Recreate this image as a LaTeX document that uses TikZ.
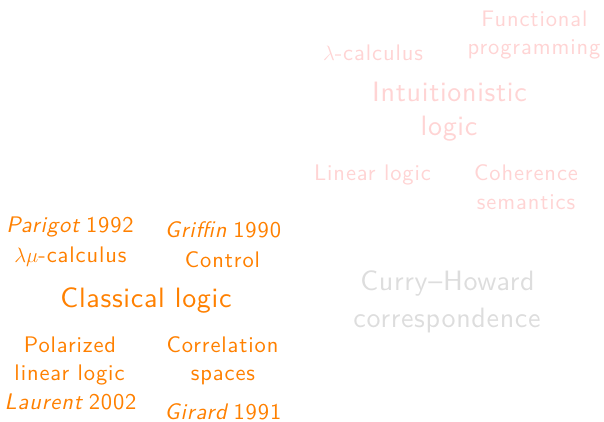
\documentclass[tikz,border=0pt]{standalone}
\usepackage{fontspec}
% Latin Modern Sans with a little tracking
\newfontfamily\labelsf{lmsans10-regular.otf}[ItalicFont=lmsans10-oblique.otf,LetterSpace=4]
\newfontfamily\titlesf{lmsans10-regular.otf}[ItalicFont=lmsans10-oblique.otf,LetterSpace=2.5]
\definecolor{hot}{RGB}{255,128,0}
\definecolor{faint}{RGB}{255,212,212}
\definecolor{ghost}{RGB}{221,221,221}
% author in slanted type, then the year
\newcommand\citeyr[2]{{\itshape #1}\hspace{0.3em}#2}
\begin{document}
\begin{tikzpicture}[x=1pt,y=-1pt,
  lbl/.style={anchor=base,inner sep=0pt,font=\labelsf\fontsize{22.5}{27}\selectfont},
  big/.style={anchor=base,inner sep=0pt,font=\titlesf\fontsize{28}{33}\selectfont}]
\useasboundingbox (0,0) rectangle (604,421);
% neighbouring topics, faded
\node[lbl,text=faint] (fun1) at (534.5,26) {Functional};
\node[lbl,text=faint] (fun2) at (534,54) {programming};
\node[lbl,text=faint] (lam) at (373,60) {$\lambda$-calculus};
\node[big,text=faint] (int1) at (449.5,101) {Intuitionistic};
\node[big,text=faint] (int2) at (449,135) {logic};
\node[lbl,text=faint] (lin) at (372.5,180) {Linear logic};
\node[lbl,text=faint] (coh1) at (526,180) {Coherence};
\node[lbl,text=faint] (coh2) at (526,209) {semantics};
\node[big,text=ghost] (ch1) at (447.5,290) {Curry–Howard};
\node[big,text=ghost] (ch2) at (447,327) {correspondence};
% classical logic and its results
\node[lbl,text=hot] (par1) at (70,232) {\citeyr{Parigot}{1992}};
\node[lbl,text=hot] (par2) at (70.5,262) {$\lambda\mu$-calculus};
\node[lbl,text=hot] (gri1) at (223,237) {\citeyr{Griffin}{1990}};
\node[lbl,text=hot] (gri2) at (222.5,267) {Control};
\node[big,text=hot] (cl) at (146,307.5) {Classical logic};
\node[lbl,text=hot] (pol1) at (70,352) {Polarized};
\node[lbl,text=hot] (pol2) at (69.5,380.5) {linear logic};
\node[lbl,text=hot] (pol3) at (70.5,409) {\citeyr{Laurent}{2002}};
\node[lbl,text=hot] (cor1) at (222.5,352) {Correlation};
\node[lbl,text=hot] (cor2) at (223,380) {spaces};
\node[lbl,text=hot] (cor3) at (223,419) {\citeyr{Girard}{1991}};
\end{tikzpicture}
\end{document}
